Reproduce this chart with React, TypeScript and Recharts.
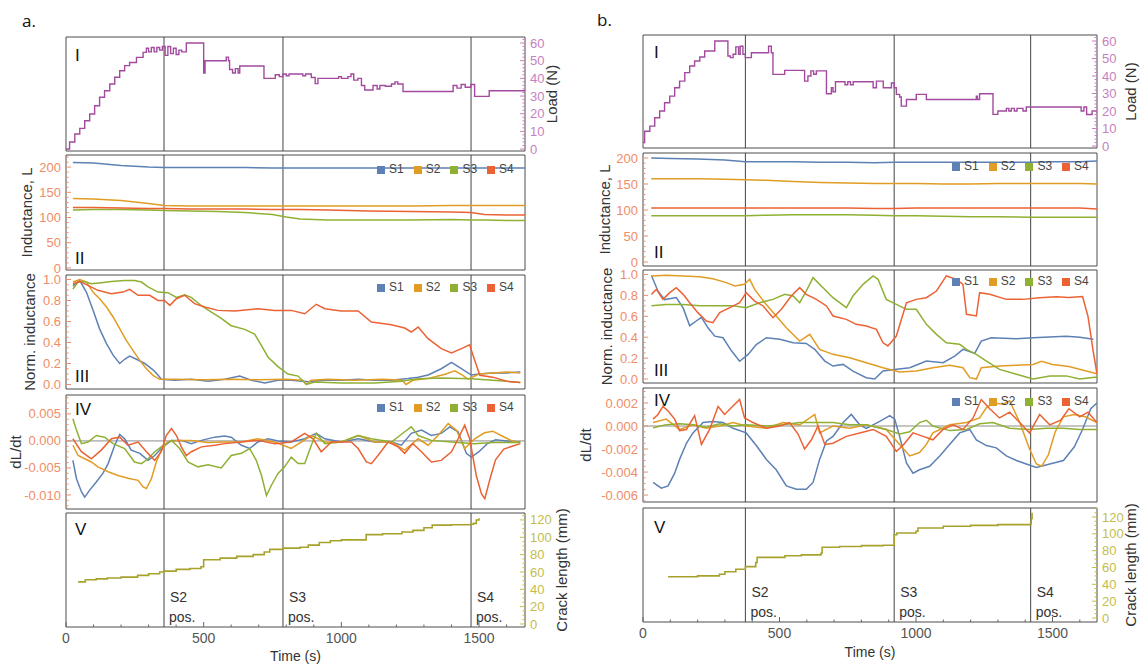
import React from 'react';
import { LineChart, Line, XAxis, YAxis, ReferenceLine, ReferenceArea, Legend } from 'recharts';

type Pt = [number, number];

const FONT = '"Liberation Sans", Arial, Helvetica, sans-serif';
const C1 = '#5e81b5';
const C2 = '#e19c24';
const C3 = '#8fb032';
const C4 = '#eb6235';
const LOAD_C = '#a24a9e';
const CRACK_C = '#a7a22c';
const SENSOR_NAMES = ['S1', 'S2', 'S3', 'S4'];
const X_MAJOR = [0, 500, 1000, 1500];

// ---------------- column a ----------------
const aEvents = [356, 788, 1471];
const aEventLabels = ['S2', 'S3', 'S4'];

const aLoad: Pt[] = [[0,0],[13,4],[32,8.5],[50,11.7],[68,16],[86,19.8],[104,24.5],[122,29.3],[140,33],[159,36.8],[177,40.6],[195,44.3],[213,47.2],[231,49],[256,51.9],[280,54.7],[292,57],[300,55],[310,57.5],[320,55],[330,57.5],[340,56],[350,58],[360,53],[370,58],[380,54],[390,57],[400,53.5],[410,56],[420,55],[437,60],[500,43],[505,50],[582,52],[590,50],[594,45],[605,43],[615,45.5],[625,43],[631,47],[719,40],[760,42],[775,41],[788,42.5],[800,41.5],[810,42.5],[860,41.5],[870,42.5],[891,40.5],[905,37],[915,40],[990,41],[1000,40],[1024,41],[1035,42.5],[1045,39],[1060,40],[1073,36],[1085,33.4],[1115,36],[1130,34],[1140,36],[1160,35.5],[1182,36.8],[1195,38],[1205,36.8],[1224,32.6],[1406,36],[1420,34.5],[1435,36.5],[1450,35],[1470,36.5],[1484,29.8],[1537,33],[1667,33]];

const aIndS1: Pt[] = [[25,209],[100,208],[200,203],[300,200],[356,199],[450,199],[550,199],[650,199],[750,198],[800,198],[850,198],[950,198],[1100,198],[1250,198],[1400,198],[1470,198],[1520,198],[1600,198],[1667,198]];
const aIndS2: Pt[] = [[25,138],[100,137],[200,134],[300,128],[356,124],[450,123],[550,123],[650,123],[750,123],[800,123],[850,123],[950,123],[1100,123],[1250,123],[1400,124],[1470,124],[1520,124],[1600,124],[1667,124]];
const aIndS3: Pt[] = [[25,115],[100,116],[200,116],[300,115],[356,114],[450,113],[550,112],[650,110],[750,106],[800,101],[850,97],[950,95],[1100,95],[1250,95],[1400,96],[1470,95],[1520,95],[1600,94],[1667,94]];
const aIndS4: Pt[] = [[25,120],[100,120],[200,119],[300,118],[356,118],[450,117],[550,117],[650,117],[750,116],[800,116],[850,116],[950,115],[1100,113],[1250,112],[1400,111],[1470,110],[1520,106],[1600,105],[1667,105]];

const aNormS1: Pt[] = [[25,0.94],[50,0.99],[74,0.88],[98,0.71],[122,0.53],[147,0.39],[171,0.28],[195,0.2],[213,0.24],[231,0.27],[256,0.24],[286,0.2],[316,0.14],[334,0.09],[346,0.05],[395,0.04],[455,0.05],[516,0.03],[576,0.05],[631,0.08],[673,0.04],[722,0.015],[770,0.04],[818,0.04],[879,0.025],[940,0.04],[1000,0.04],[1061,0.05],[1121,0.04],[1182,0.04],[1242,0.056],[1279,0.07],[1315,0.09],[1363,0.15],[1400,0.21],[1436,0.15],[1472,0.09],[1500,0.1],[1550,0.11],[1600,0.11],[1650,0.12]];
const aNormS2: Pt[] = [[25,0.976],[50,1.0],[74,0.976],[98,0.88],[122,0.817],[147,0.738],[171,0.643],[195,0.532],[219,0.42],[243,0.325],[268,0.23],[292,0.15],[316,0.087],[340,0.049],[400,0.05],[500,0.045],[600,0.05],[700,0.045],[800,0.05],[860,0.04],[873,0.0],[890,0.04],[950,0.05],[1050,0.04],[1150,0.05],[1220,0.04],[1235,0.0],[1260,0.04],[1320,0.06],[1380,0.1],[1412,0.13],[1440,0.09],[1460,0.05],[1500,0.1],[1550,0.11],[1600,0.12],[1650,0.11]];
const aNormS3: Pt[] = [[25,0.91],[44,0.976],[68,0.98],[92,0.96],[128,0.97],[165,0.98],[213,0.99],[249,0.99],[274,0.976],[298,0.93],[334,0.88],[370,0.875],[401,0.83],[431,0.855],[455,0.83],[492,0.75],[528,0.69],[564,0.63],[600,0.56],[649,0.525],[685,0.48],[710,0.37],[734,0.26],[770,0.17],[806,0.1],[843,0.08],[873,0.0],[903,0.024],[1000,0.014],[1121,0.014],[1218,0.03],[1279,0.055],[1363,0.062],[1472,0.055],[1550,0.04],[1650,0.02]];
const aNormS4: Pt[] = [[25,0.96],[50,0.98],[80,0.944],[116,0.897],[165,0.865],[207,0.88],[231,0.906],[262,0.85],[304,0.85],[334,0.8],[358,0.8],[377,0.754],[401,0.817],[431,0.85],[467,0.77],[504,0.738],[552,0.706],[613,0.7],[697,0.722],[758,0.706],[818,0.706],[867,0.674],[909,0.764],[940,0.722],[1000,0.7],[1061,0.7],[1109,0.595],[1182,0.57],[1230,0.538],[1254,0.5],[1279,0.547],[1315,0.436],[1363,0.341],[1400,0.3],[1436,0.341],[1466,0.379],[1478,0.278],[1503,0.087],[1550,0.07],[1600,0.03],[1650,0.02]];

const aDerS1: Pt[] = [[25,-0.0036],[38,-0.007],[56,-0.0094],[68,-0.0104],[86,-0.0091],[110,-0.0076],[134,-0.006],[153,-0.0042],[177,-0.0008],[195,0.0012],[213,0.0004],[237,-0.0017],[268,-0.0023],[298,-0.0036],[322,-0.0027],[346,-0.0014],[383,0.0001],[419,0.0001],[455,-0.0005],[492,0.0001],[540,0.0007],[576,0.0009],[600,0.0007],[637,-0.0008],[667,-0.0014],[697,-0.0002],[734,0.0004],[770,0],[818,-0.0002],[867,0.0004],[909,0.0014],[940,0.0004],[1000,-0.0002],[1061,0.0004],[1121,-0.0002],[1182,-0.0002],[1218,-0.0008],[1254,0.0014],[1291,0.002],[1327,0.001],[1363,0.0014],[1394,0.0026],[1424,0.0017],[1454,-0.0023],[1472,-0.003],[1500,-0.002],[1530,-0.0005],[1560,0.0002],[1600,0],[1650,-0.0002]];
const aDerS2: Pt[] = [[25,-0.0008],[44,-0.0027],[68,-0.0033],[92,-0.0039],[116,-0.0048],[153,-0.0057],[189,-0.0064],[225,-0.0069],[262,-0.0073],[280,-0.0085],[292,-0.0088],[310,-0.007],[328,-0.0039],[346,-0.0017],[370,-0.0002],[407,0.0001],[455,0.0001],[516,-0.0003],[576,-0.0002],[637,-0.0002],[697,0.0004],[758,-0.0002],[818,-0.0014],[855,-0.0002],[891,0.001],[940,-0.0002],[1000,-0.0002],[1061,0.001],[1121,-0.0002],[1182,-0.0002],[1230,-0.0017],[1279,0.0004],[1315,-0.0008],[1351,0.001],[1388,0.0032],[1418,0.002],[1448,-0.0014],[1484,0.0004],[1520,0.0015],[1550,0.0018],[1580,0.001],[1620,0],[1650,-0.0003]];
const aDerS3: Pt[] = [[25,0.0041],[38,0.002],[56,-0.0005],[80,-0.0002],[110,0.001],[140,0.0007],[171,-0.0005],[213,-0.0014],[249,-0.0039],[274,-0.0042],[298,-0.0033],[322,-0.002],[346,-0.0011],[383,0.0001],[413,-0.0014],[443,-0.0039],[479,-0.0048],[516,-0.0044],[564,-0.005],[600,-0.0027],[637,-0.0023],[667,-0.0014],[691,-0.0036],[710,-0.0064],[728,-0.0101],[746,-0.0082],[770,-0.006],[794,-0.0048],[818,-0.003],[843,-0.0042],[867,-0.0042],[891,-0.0008],[909,0.0014],[940,-0.0005],[1000,-0.0002],[1061,0.001],[1109,0.0004],[1182,-0.0002],[1230,0.0017],[1254,0.0026],[1279,0.001],[1327,0.0001],[1400,-0.0002],[1484,-0.0005],[1550,-0.0003],[1650,-0.0003]];
const aDerS4: Pt[] = [[25,0.0004],[56,-0.002],[92,-0.0033],[128,-0.0017],[165,0.0004],[195,0.0007],[225,-0.0008],[262,-0.0002],[292,-0.002],[322,-0.0036],[346,-0.002],[364,0.001],[383,0.0023],[401,0.001],[419,-0.0011],[437,-0.0027],[455,-0.002],[492,-0.0011],[540,-0.0008],[576,-0.0005],[637,-0.0002],[697,0.0001],[758,-0.0005],[818,-0.0002],[867,0.0014],[897,0.0004],[927,-0.002],[964,-0.0002],[1036,-0.0002],[1061,-0.0014],[1091,-0.0039],[1109,-0.0042],[1133,-0.0027],[1170,-0.0002],[1206,-0.0011],[1230,-0.0023],[1260,-0.0005],[1291,-0.002],[1327,-0.0039],[1363,-0.0036],[1400,-0.002],[1424,0.0004],[1448,0.0029],[1466,0.0004],[1490,-0.0064],[1509,-0.0098],[1521,-0.0107],[1540,-0.007],[1560,-0.0035],[1590,-0.0015],[1620,-0.001],[1650,-0.0005]];

const aCrack: Pt[] = [[44,48.5],[70,51],[110,52],[150,53],[200,54],[260,56],[300,58],[340,60],[356,61],[400,63],[450,64],[490,66],[500,74],[560,76],[620,78],[680,80],[720,83],[740,86],[788,87.5],[850,88.5],[880,91],[920,94],[960,96],[1000,97],[1090,103],[1150,104],[1220,106],[1260,108],[1300,111],[1330,114],[1400,114.5],[1471,115],[1480,116],[1490,120],[1500,122]];

// ---------------- column b ----------------
const bEvents = [375, 920, 1420];
const bEventLabels = ['S2', 'S3', 'S4'];

const bLoad: Pt[] = [[0,2],[6,8.5],[25,11.4],[43,16.2],[61,20],[79,24.7],[98,28.5],[116,33.3],[134,37.1],[153,41.9],[171,45.7],[189,48.6],[208,50.8],[226,54.3],[263,60],[311,51.4],[320,50.5],[330,52.4],[340,56.6],[350,52.4],[356,57],[366,52.4],[375,50.5],[397,53.3],[460,57],[470,53.3],[476,40.9],[519,43.2],[585,43.2],[592,37.1],[604,40],[615,42.9],[625,41],[635,42.9],[672,29.9],[690,33.3],[696,31],[705,36.7],[740,35],[750,36.7],[760,35],[770,36.7],[843,33.3],[855,37.1],[880,33.3],[910,36],[920,33.3],[928,29.5],[940,28],[946,22.8],[965,26.6],[1001,29.5],[1038,26.6],[1221,28.5],[1225,26.6],[1233,29.9],[1282,18.1],[1300,20],[1331,21.5],[1340,20],[1349,21.5],[1360,20],[1370,21.5],[1392,20],[1404,22.3],[1600,22.3],[1605,20],[1615,22.3],[1625,18],[1645,20],[1663,19]];

const bIndS1: Pt[] = [[30,200],[100,199],[200,198],[300,196],[375,193],[450,193],[550,193],[650,192],[750,192],[850,191],[920,192],[1000,192],[1100,192],[1200,192],[1300,192],[1420,192],[1500,193],[1600,193],[1663,194]];
const bIndS2: Pt[] = [[30,160],[100,160],[200,160],[300,159],[375,158],[450,157],[550,155],[650,153],[750,152],[850,151],[920,151],[1000,151],[1100,150],[1200,150],[1300,151],[1420,151],[1500,151],[1600,151],[1663,150]];
const bIndS3: Pt[] = [[30,89],[100,89],[200,89],[300,89],[375,89],[450,90],[550,91],[650,91],[750,91],[850,90],[920,89],[1000,89],[1100,88],[1200,87],[1300,87],[1420,86],[1500,86],[1600,86],[1663,86]];
const bIndS4: Pt[] = [[30,104],[100,104],[200,104],[300,104],[375,104],[450,104],[550,104],[650,104],[750,104],[850,103],[920,103],[1000,104],[1100,104],[1200,104],[1300,104],[1420,104],[1500,104],[1600,104],[1663,102]];

const bNormS1: Pt[] = [[31,0.99],[55,0.84],[79,0.76],[122,0.78],[147,0.68],[171,0.51],[195,0.555],[214,0.59],[238,0.49],[263,0.41],[293,0.395],[324,0.27],[354,0.17],[385,0.236],[415,0.33],[452,0.395],[501,0.38],[550,0.347],[598,0.341],[629,0.284],[666,0.172],[696,0.124],[733,0.14],[769,0.076],[818,0.013],[849,0.0],[879,0.076],[922,0.092],[977,0.108],[1038,0.172],[1099,0.156],[1142,0.22],[1172,0.284],[1191,0.268],[1215,0.245],[1239,0.363],[1276,0.395],[1368,0.386],[1429,0.395],[1508,0.405],[1550,0.41],[1600,0.4],[1650,0.38]];
const bNormS2: Pt[] = [[31,0.986],[85,0.992],[147,0.986],[208,0.979],[256,0.96],[305,0.922],[336,0.89],[372,0.906],[391,0.954],[409,0.858],[446,0.73],[488,0.603],[525,0.491],[574,0.363],[611,0.427],[647,0.284],[696,0.236],[757,0.204],[818,0.156],[879,0.108],[940,0.067],[1001,0.076],[1062,0.108],[1123,0.131],[1172,0.108],[1197,0.013],[1221,0.0],[1239,0.108],[1306,0.124],[1368,0.131],[1429,0.14],[1460,0.17],[1500,0.14],[1560,0.12],[1620,0.08],[1663,0.05]];
const bNormS3: Pt[] = [[31,0.7],[85,0.714],[147,0.714],[208,0.7],[269,0.7],[330,0.7],[378,0.683],[427,0.73],[476,0.762],[519,0.81],[550,0.794],[574,0.73],[598,0.842],[623,0.97],[653,0.89],[696,0.778],[745,0.683],[769,0.794],[806,0.906],[843,0.986],[861,0.954],[891,0.762],[928,0.714],[965,0.667],[1001,0.667],[1038,0.523],[1075,0.427],[1111,0.347],[1160,0.332],[1185,0.284],[1221,0.236],[1258,0.172],[1306,0.092],[1368,0.045],[1429,0.0],[1490,0.029],[1550,0.03],[1600,0.0],[1663,0.02]];
const bNormS4: Pt[] = [[31,0.81],[49,0.858],[73,0.762],[98,0.826],[122,0.874],[147,0.81],[171,0.73],[201,0.635],[232,0.555],[256,0.539],[281,0.635],[318,0.683],[354,0.73],[378,0.826],[409,0.746],[440,0.699],[476,0.587],[507,0.667],[543,0.794],[574,0.874],[598,0.81],[635,0.762],[672,0.699],[696,0.603],[745,0.571],[781,0.523],[818,0.507],[855,0.475],[879,0.347],[897,0.316],[928,0.411],[965,0.73],[1001,0.762],[1038,0.778],[1075,0.842],[1111,0.986],[1148,0.954],[1172,0.906],[1185,0.619],[1221,0.603],[1233,0.826],[1270,0.81],[1331,0.762],[1392,0.762],[1453,0.778],[1514,0.788],[1560,0.78],[1610,0.79],[1630,0.6],[1650,0.25],[1663,0.05]];

const bDerS1: Pt[] = [[37,-0.0049],[67,-0.0054],[92,-0.0052],[116,-0.0041],[134,-0.0029],[159,-0.0015],[183,-0.0006],[220,0.0003],[256,0.0004],[293,0.0003],[330,-0.0002],[378,-0.0006],[415,-0.0017],[452,-0.0029],[488,-0.0038],[525,-0.0052],[562,-0.0055],[598,-0.0055],[623,-0.0049],[647,-0.0029],[672,-0.0013],[696,-0.0009],[733,0.0003],[763,0.001],[794,0.0001],[818,-0.0002],[867,0.0004],[904,0.0009],[922,0.0006],[940,-0.0009],[965,-0.0032],[989,-0.0041],[1013,-0.0038],[1050,-0.0035],[1087,-0.0026],[1123,-0.0016],[1160,-0.0006],[1197,-0.0003],[1221,-0.0012],[1258,-0.0017],[1294,-0.0019],[1331,-0.0026],[1368,-0.003],[1404,-0.0033],[1441,-0.0036],[1490,-0.0033],[1540,-0.003],[1580,-0.0018],[1610,-0.0003],[1640,0.0015],[1663,0.002]];
const bDerS2: Pt[] = [[37,0.0003],[85,0.0006],[134,-0.0003],[183,0.0001],[232,-0.0002],[281,0],[330,0.0003],[378,0],[452,-0.0002],[513,0.0003],[574,0.0001],[629,0.001],[647,-0.0006],[696,0],[757,-0.0002],[818,0.0001],[891,-0.0003],[940,-0.0016],[977,-0.0026],[1013,-0.0023],[1038,-0.0016],[1062,-0.0006],[1123,0.0001],[1185,0.0003],[1233,0.0007],[1258,0.0016],[1282,0.002],[1319,0.0019],[1343,0.0022],[1380,0.0003],[1416,-0.002],[1441,-0.0033],[1460,-0.0035],[1485,-0.0025],[1510,-0.0005],[1540,0.0008],[1580,0.001],[1620,0.0008],[1663,0.0003]];
const bDerS3: Pt[] = [[37,-0.00015],[85,0.0001],[134,0.0002],[183,0.0001],[232,-0.0001],[281,0.0002],[330,0],[378,0.0001],[452,0],[513,0.0001],[574,0.0003],[629,0.0003],[696,0.0003],[757,0.0001],[818,0.0001],[891,-0.0003],[940,-0.0007],[977,-0.0005],[1013,0.0003],[1038,0.0005],[1062,0],[1123,-0.0004],[1185,-0.0003],[1233,0.0002],[1282,0.0003],[1343,-0.0002],[1416,-0.0003],[1478,-0.0002],[1540,-0.0002],[1600,-0.0003],[1663,-0.0003]];
const bDerS4: Pt[] = [[37,0.0006],[55,0.001],[73,0.0017],[92,0.0013],[116,0.0006],[134,-0.0004],[159,-0.0003],[189,0.0009],[214,-0.0016],[244,-0.0003],[275,0.0017],[299,0.001],[324,0.0016],[354,0.0023],[372,0.0007],[403,0.0003],[452,-0.0002],[501,0],[537,0.0003],[568,-0.0007],[592,-0.002],[617,-0.0012],[641,0],[666,-0.0016],[696,-0.0015],[745,-0.0009],[794,-0.0006],[843,-0.0003],[891,-0.0009],[928,-0.0022],[952,-0.0017],[989,-0.0006],[1026,-0.0009],[1062,-0.0012],[1099,-0.0003],[1136,0.0001],[1172,-0.0003],[1209,0.0007],[1239,0.0023],[1270,0.0015],[1306,0.0007],[1343,0.0012],[1380,0.0003],[1416,-0.0006],[1453,0.001],[1490,0.0001],[1530,0.0005],[1560,0.0015],[1600,0.0008],[1630,0.0012],[1663,0.0003]];

const bCrack: Pt[] = [[92,49],[200,50],[280,52],[300,55],[340,58],[375,61],[413,66],[418,72],[520,74],[580,75],[652,77],[656,84],[720,85],[800,86],[880,86.5],[920,99],[930,101],[1000,103],[1007,107],[1100,109],[1200,110],[1300,111],[1420,112],[1422,118],[1425,125]];

// ---------------- helpers ----------------
const M = 2;
const TICK_FS = 13;

function tickList(lo: number, hi: number, step: number): number[] {
  const out: number[] = [];
  const start = Math.ceil(lo / step - 1e-9);
  const end = Math.floor(hi / step + 1e-9);
  for (let i = start; i <= end; i++) out.push(Number((i * step).toFixed(8)));
  return out;
}

function rows(d: Pt[]) {
  return d.map(([t, v]) => ({ t, v }));
}

interface SeriesDef { name: string; data: Pt[]; color: string; step?: boolean; width?: number }
interface PanelDef {
  left: number; top: number; w: number; h: number; xMax: number;
  yDomain: [number, number]; yMajor: number[]; yMinorStep: number; yFmt: (v: number) => string;
  side: 'left' | 'right'; axisW: number; title: string; tickColor: string;
  series: SeriesDef[]; events: number[]; zero?: boolean; legendAt?: [number, number]; showX?: boolean;
}

function Panel(d: PanelDef) {
  const leftW = d.side === 'left' ? d.axisW : 0;
  const rightW = d.side === 'right' ? d.axisW : 0;
  const xH = d.showX ? 40 : 0;
  const cw = d.w + leftW + rightW + 2 * M;
  const ch = d.h + xH + 2 * M;
  const cl = d.left - leftW - M;
  const ct = d.top - M;
  const [lo, hi] = d.yDomain;
  const yTicks = tickList(lo, hi, d.yMinorStep);
  const xTicks = tickList(0, d.xMax, 100);
  const isMajor = (v: number) => d.yMajor.some((m) => Math.abs(m - v) < 1e-9);

  const renderYTick = (tp: any) => {
    const { x, y, payload } = tp;
    const v = payload.value as number;
    const maj = isMajor(v);
    const inward = d.side === 'left' ? 1 : -1;
    return (
      <g>
        <line x1={x} x2={x + inward * (maj ? 5 : 2.5)} y1={y} y2={y} stroke={d.tickColor} strokeWidth={1} />
        {maj && (
          <text x={x - inward * 5} y={y} dy="0.35em" textAnchor={d.side === 'left' ? 'end' : 'start'}
            fill={d.tickColor} fontSize={TICK_FS} fontFamily={FONT}>{d.yFmt(v)}</text>
        )}
      </g>
    );
  };

  const renderXTick = (tp: any) => {
    const { x, y, payload } = tp;
    const v = payload.value as number;
    const maj = X_MAJOR.includes(v);
    return (
      <g>
        <line x1={x} x2={x} y1={y} y2={y - (maj ? 5 : 2.5)} stroke="#666" strokeWidth={1} />
        {maj && (
          <text x={x} y={y + 11} dy="0.35em" textAnchor="middle" fill="#555" fontSize={14} fontFamily={FONT}>{v}</text>
        )}
      </g>
    );
  };

  return (
    <div style={{ position: 'absolute', left: cl, top: ct, width: cw, height: ch }}>
      <LineChart width={cw} height={ch} margin={{ top: M, right: M, bottom: M, left: M }} style={{ overflow: 'visible' }}>
        <XAxis type="number" dataKey="t" domain={[0, d.xMax]} allowDataOverflow hide={!d.showX}
          height={xH || 1} ticks={xTicks} interval={0} tickSize={0} tickMargin={0}
          axisLine={false} tickLine={false} tick={renderXTick} />
        <YAxis type="number" domain={d.yDomain} allowDataOverflow orientation={d.side} width={d.axisW}
          ticks={yTicks} interval={0} tickSize={0} tickMargin={0} axisLine={false} tickLine={false}
          tick={renderYTick}
          label={{ value: d.title, angle: -90, position: 'center', fill: '#333', fontSize: 15, fontFamily: FONT }} />
        <ReferenceArea x1={0} x2={d.xMax} y1={lo} y2={hi} fill="none" fillOpacity={0} stroke="#4d4d4d" strokeWidth={1} />
        {d.zero && <ReferenceLine y={0} stroke="#8c8c8c" strokeWidth={1} />}
        {d.events.map((e) => (
          <ReferenceLine key={e} x={e} stroke="#444" strokeWidth={1} />
        ))}
        {d.series.map((s) => (
          <Line key={s.name} name={s.name} data={rows(s.data)} dataKey="v"
            type={s.step ? 'stepAfter' : 'linear'} stroke={s.color} strokeWidth={s.width ?? 1.5}
            dot={false} activeDot={false} isAnimationActive={false} legendType="square" />
        ))}
        {d.legendAt && (
          <Legend layout="horizontal" verticalAlign="middle" align="center" iconType="square" iconSize={8}
            wrapperStyle={{ left: d.legendAt[0] - cl, top: d.legendAt[1] - 7 - ct, width: 'auto', height: 'auto',
              fontSize: 12, fontFamily: FONT, lineHeight: '14px', whiteSpace: 'nowrap' }}
            formatter={(v: any) => <span style={{ color: '#444' }}>{v}</span>} />
        )}
      </LineChart>
    </div>
  );
}

const sensorColors = [C1, C2, C3, C4];
function four(data: Pt[][]): SeriesDef[] {
  return data.map((dd, i) => ({ name: SENSOR_NAMES[i], data: dd, color: sensorColors[i] }));
}

const LEFT_TICK = '#ef8d68';
const LOAD_TICK = '#c67fc0';
const CRACK_TICK = '#c4bd4c';

const fmtInt = (v: number) => String(v);
const fmt1 = (v: number) => v.toFixed(1);
const fmt3 = (v: number) => v.toFixed(3);

function Column(c: {
  L: number; W: number; xMax: number; tops: number[]; hs: number[];
  domains: [number, number][]; axisW: number[]; events: number[];
  load: Pt[]; ind: Pt[][]; norm: Pt[][]; der: Pt[][]; crack: Pt[];
  derMajor: number[]; derMinor: number; legendX: number; legendY: number[];
}) {
  return (
    <>
      <Panel left={c.L} top={c.tops[0]} w={c.W} h={c.hs[0]} xMax={c.xMax} yDomain={c.domains[0]}
        yMajor={[0, 10, 20, 30, 40, 50, 60]} yMinorStep={2} yFmt={fmtInt} side="right" axisW={c.axisW[0]}
        title="Load (N)" tickColor={LOAD_TICK} events={c.events}
        series={[{ name: 'Load', data: c.load, color: LOAD_C, step: true, width: 1.4 }]} />
      <Panel left={c.L} top={c.tops[1]} w={c.W} h={c.hs[1]} xMax={c.xMax} yDomain={c.domains[1]}
        yMajor={[0, 50, 100, 150, 200]} yMinorStep={10} yFmt={fmtInt} side="left" axisW={c.axisW[1]}
        title="Inductance, L" tickColor={LEFT_TICK} events={c.events} series={four(c.ind)}
        legendAt={[c.legendX, c.legendY[0]]} />
      <Panel left={c.L} top={c.tops[2]} w={c.W} h={c.hs[2]} xMax={c.xMax} yDomain={c.domains[2]}
        yMajor={[0, 0.2, 0.4, 0.6, 0.8, 1.0]} yMinorStep={0.05} yFmt={fmt1} side="left" axisW={c.axisW[2]}
        title="Norm. inductance" tickColor={LEFT_TICK} events={c.events} series={four(c.norm)}
        legendAt={[c.legendX, c.legendY[1]]} />
      <Panel left={c.L} top={c.tops[3]} w={c.W} h={c.hs[3]} xMax={c.xMax} yDomain={c.domains[3]}
        yMajor={c.derMajor} yMinorStep={c.derMinor} yFmt={fmt3} side="left" axisW={c.axisW[3]}
        title="dL/dt" tickColor={LEFT_TICK} events={c.events} series={four(c.der)} zero
        legendAt={[c.legendX, c.legendY[2]]} />
      <Panel left={c.L} top={c.tops[4]} w={c.W} h={c.hs[4]} xMax={c.xMax} yDomain={c.domains[4]}
        yMajor={[0, 20, 40, 60, 80, 100, 120]} yMinorStep={5} yFmt={fmtInt} side="right" axisW={c.axisW[4]}
        title="Crack length (mm)" tickColor={CRACK_TICK} events={c.events} showX
        series={[{ name: 'Crack', data: c.crack, color: CRACK_C, step: true, width: 1.6 }]} />
    </>
  );
}

function Txt(p: { x: number; y: number; size: number; children: React.ReactNode; color?: string; center?: boolean; family?: string }) {
  return (
    <div style={{ position: 'absolute', left: p.x, top: p.y, transform: p.center ? 'translate(-50%, -50%)' : 'translate(0, -50%)',
      fontSize: p.size, lineHeight: 1, color: p.color ?? '#222', fontFamily: p.family ?? FONT, whiteSpace: 'nowrap' }}>
      {p.children}
    </div>
  );
}

const ROMAN = ['I', 'II', 'III', 'IV', 'V'];

export default function App() {
  const aL = 66, aW = 459, aXMax = 1667;
  const bL = 643, bW = 454, bXMax = 1663;
  const aTops = [37, 155, 275, 395, 513];
  const aHs = [114, 115, 114, 114, 114];
  const bTops = [35, 153, 270, 388, 508];
  const bHs = [113, 113, 113, 114, 114];
  const aRomanY = [55, 258, 376, 409, 529];
  const bRomanY = [52, 252, 370, 400, 527];
  const aPx = (t: number) => aL + (t / aXMax) * aW;
  const bPx = (t: number) => bL + (t / bXMax) * bW;

  return (
    <div style={{ position: 'absolute', left: 0, top: 0, width: 1142, height: 665, background: '#fff', overflow: 'hidden', fontFamily: FONT }}>
      <style>{'.recharts-surface{overflow:visible}'}</style>
      <Column L={aL} W={aW} xMax={aXMax} tops={aTops} hs={aHs}
        domains={[[-1.1, 63.4], [-4, 224], [-0.043, 1.043], [-0.0126, 0.0085], [-3.5, 128]]}
        axisW={[54, 78, 72, 100, 74]} events={aEvents}
        load={aLoad} ind={[aIndS1, aIndS2, aIndS3, aIndS4]} norm={[aNormS1, aNormS2, aNormS3, aNormS4]}
        der={[aDerS1, aDerS2, aDerS3, aDerS4]} crack={aCrack}
        derMajor={[-0.01, -0.005, 0, 0.005]} derMinor={0.001} legendX={377} legendY={[169, 287, 407]} />
      <Column L={bL} W={bW} xMax={bXMax} tops={bTops} hs={bHs}
        domains={[[-1.1, 63.4], [-7.7, 209.6], [-0.038, 1.043], [-0.0066, 0.0033], [-4.75, 130.7]]}
        axisW={[68, 76, 72, 114, 68]} events={bEvents}
        load={bLoad} ind={[bIndS1, bIndS2, bIndS3, bIndS4]} norm={[bNormS1, bNormS2, bNormS3, bNormS4]}
        der={[bDerS1, bDerS2, bDerS3, bDerS4]} crack={bCrack}
        derMajor={[-0.006, -0.004, -0.002, 0, 0.002]} derMinor={0.0005} legendX={952} legendY={[166, 281, 401]} />

      <Txt x={22} y={20} size={17} color="#111" family='"Open Sans", sans-serif'>a.</Txt>
      <Txt x={597} y={19} size={17} color="#111" family='"Open Sans", sans-serif'>b.</Txt>

      {ROMAN.map((r, i) => (
        <Txt key={'a' + r} x={75} y={aRomanY[i]} size={17} color="#111">{r}</Txt>
      ))}
      {ROMAN.map((r, i) => (
        <Txt key={'b' + r} x={654} y={bRomanY[i]} size={17} color="#111">{r}</Txt>
      ))}

      {aEvents.map((t, i) => (
        <React.Fragment key={'ae' + t}>
          <Txt x={aPx(t) + 6} y={597} size={14} color="#333">{aEventLabels[i]}</Txt>
          <Txt x={aPx(t) + 5} y={617} size={14} color="#333">pos.</Txt>
        </React.Fragment>
      ))}
      {bEvents.map((t, i) => (
        <React.Fragment key={'be' + t}>
          <Txt x={bPx(t) + 6} y={592} size={14} color="#333">{bEventLabels[i]}</Txt>
          <Txt x={bPx(t) + 5} y={612} size={14} color="#333">pos.</Txt>
        </React.Fragment>
      ))}

      <Txt x={aL + aW / 2} y={656} size={14} color="#333" center>Time (s)</Txt>
      <Txt x={bL + bW / 2} y={652} size={14} color="#333" center>Time (s)</Txt>
    </div>
  );
}
